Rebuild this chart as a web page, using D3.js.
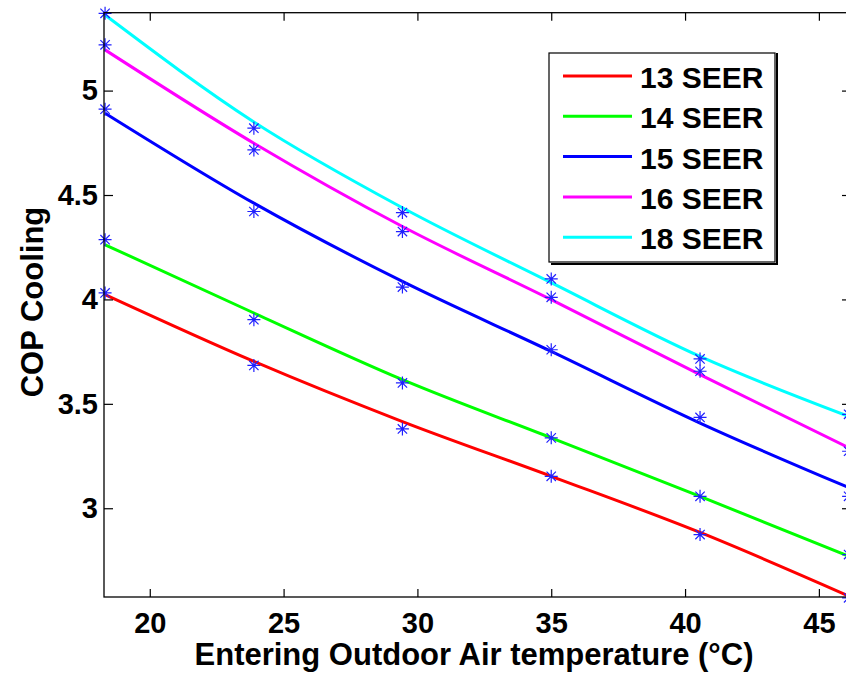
<!DOCTYPE html>
<html>
<head>
<meta charset="utf-8">
<script src="https://cdn.jsdelivr.net/npm/d3@7"></script>
<style>
   body { margin: 0; background: #fff; }
   svg text { font-family: "Liberation Sans", Arial, sans-serif; font-weight: bold; fill: #000; }
</style>
</head>
<body>
<div id="chart"></div>
<script>
// outdoor temperatures (65..115 F in C)
var temps = [18.33, 23.89, 29.44, 35.0, 40.56, 46.11];
var seriesNames = ["13 SEER", "14 SEER", "15 SEER", "16 SEER", "18 SEER"];
var colors = ["#ff0000", "#00ff00", "#0000ff", "#ff00ff", "#00ffff"];

// measured points (stars)
var pts13 = [4.031, 3.684, 3.380, 3.153, 2.874, 2.571];
var pts14 = [4.286, 3.903, 3.600, 3.337, 3.057, 2.778];
var pts15 = [4.911, 4.421, 4.059, 3.759, 3.435, 3.057];
var pts16 = [5.219, 4.716, 4.325, 4.010, 3.656, 3.273];
var pts18 = [5.370, 4.820, 4.416, 4.098, 3.715, 3.450];

// fitted curves
var fit13 = [4.023, 3.703, 3.415, 3.153, 2.884, 2.580];
var fit14 = [4.262, 3.935, 3.616, 3.337, 3.057, 2.770];
var fit15 = [4.892, 4.461, 4.086, 3.751, 3.408, 3.099];
var fit16 = [5.195, 4.748, 4.349, 3.999, 3.640, 3.290];
var fit18 = [5.362, 4.850, 4.439, 4.080, 3.727, 3.440];

var xTicks = [20, 25, 30, 35, 40, 45];
var yTicks = [3, 3.5, 4, 4.5, 5];

var fits = [fit13, fit14, fit15, fit16, fit18];
var points = [pts13, pts14, pts15, pts16, pts18];

var w = 846, h = 679;
var pLeft = 104, pRight = 851, pTop = 12.7, pBottom = 597;

var svg = d3.select("#chart").append("svg")
   .attr("width", w)
   .attr("height", h);

var xScale = d3.scaleLinear().domain([18.29, 46.2]).range([pLeft, pRight]);
var yScale = d3.scaleLinear().domain([2.575, 5.373]).range([pBottom, pTop]);

//Lines
var line = d3.line()
   .x(function(d, i) { return xScale(temps[i]); })
   .y(function(d) { return yScale(d); })
   .curve(d3.curveMonotoneX);

svg.selectAll(".fit")
   .data(fits)
   .enter()
   .append("path")
   .attr("class", "fit")
   .attr("d", line)
   .attr("fill", "none")
   .attr("stroke", function(d, i) { return colors[i]; })
   .attr("stroke-width", 3);

//Star markers
var r = 6.5, dd = r * 0.72;
var star = "M0," + (-r) + "V" + r + "M" + (-r) + ",0H" + r +
           "M" + (-dd) + "," + (-dd) + "L" + dd + "," + dd +
           "M" + (-dd) + "," + dd + "L" + dd + "," + (-dd);

var allPts = [];
points.forEach(function(s) {
   s.forEach(function(v, i) { allPts.push([temps[i], v]); });
});

svg.selectAll(".star")
   .data(allPts)
   .enter()
   .append("path")
   .attr("class", "star")
   .attr("transform", function(d) { return "translate(" + xScale(d[0]) + "," + yScale(d[1]) + ")"; })
   .attr("d", star)
   .attr("fill", "none")
   .attr("stroke", "#2020ff")
   .attr("stroke-width", 1.2);

//Axes box
svg.append("rect")
   .attr("x", pLeft).attr("y", pTop)
   .attr("width", pRight - pLeft).attr("height", pBottom - pTop)
   .attr("fill", "none")
   .attr("stroke", "#000")
   .attr("stroke-width", 1.3);

var xAxis = d3.axisBottom(xScale).tickValues(xTicks).tickSizeInner(-8).tickSizeOuter(0).tickPadding(15);
var yAxis = d3.axisLeft(yScale).tickValues(yTicks).tickSizeInner(-9).tickSizeOuter(0).tickPadding(6)
   .tickFormat(function(d) { return d; });

var gx = svg.append("g").attr("transform", "translate(0," + pBottom + ")").call(xAxis);
var gy = svg.append("g").attr("transform", "translate(" + pLeft + ",0)").call(yAxis);
var gxTop = svg.append("g").attr("transform", "translate(0," + pTop + ")")
   .call(d3.axisTop(xScale).tickValues(xTicks).tickSizeInner(-8).tickSizeOuter(0).tickFormat(""));
var gyRight = svg.append("g").attr("transform", "translate(" + pRight + ",0)")
   .call(d3.axisRight(yScale).tickValues(yTicks).tickSizeInner(-9).tickSizeOuter(0).tickFormat(""));

[gx, gy, gxTop, gyRight].forEach(function(g) {
   g.select(".domain").remove();
   g.selectAll("line").attr("stroke", "#000").attr("stroke-width", 1.2);
   g.selectAll("text").attr("font-size", 29).attr("font-family", null).attr("fill", "#000");
});

//Axis titles
svg.append("text")
   .attr("x", 474)
   .attr("y", 665)
   .attr("text-anchor", "middle")
   .attr("font-size", 31)
   .text("Entering Outdoor Air temperature (°C)");

svg.append("text")
   .attr("transform", "translate(43,302) rotate(-90)")
   .attr("text-anchor", "middle")
   .attr("font-size", 31)
   .text("COP Cooling");

//Legend
var lx = 549, ly = 53, lw = 226, lh = 209;
svg.append("path")
   .attr("d", "M" + (lx + lw + 2) + "," + (ly) + "V" + (ly + lh + 2) + "H" + (lx + 2))
   .attr("fill", "none")
   .attr("stroke", "#000")
   .attr("stroke-width", 2);
svg.append("rect")
   .attr("x", lx).attr("y", ly)
   .attr("width", lw).attr("height", lh)
   .attr("fill", "#fff")
   .attr("stroke", "#000")
   .attr("stroke-width", 1.2);

var items = svg.selectAll(".legend")
   .data(seriesNames)
   .enter()
   .append("g")
   .attr("class", "legend")
   .attr("transform", function(d, i) { return "translate(0," + (76 + i * 40.3) + ")"; });

items.append("line")
   .attr("x1", 563).attr("x2", 632)
   .attr("stroke", function(d, i) { return colors[i]; })
   .attr("stroke-width", 3);

items.append("text")
   .attr("x", 640)
   .attr("y", 12)
   .attr("font-size", 30)
   .text(function(d) { return d; });
</script>
</body>
</html>
